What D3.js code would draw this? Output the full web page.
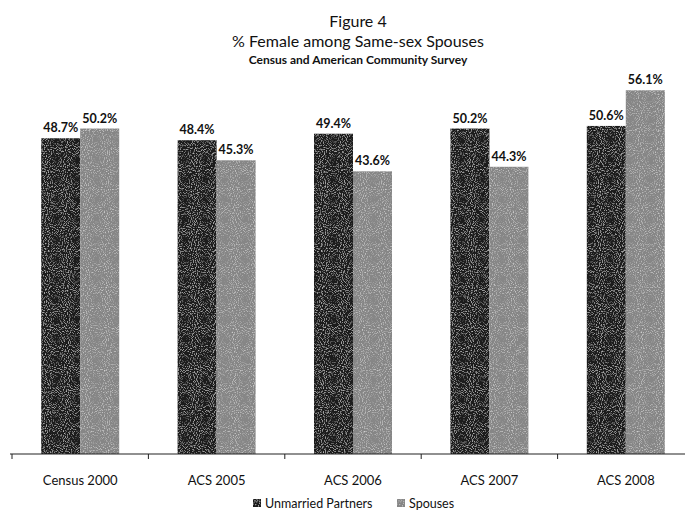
<!DOCTYPE html>
<html lang="en">
<head>
<meta charset="UTF-8">
<title>Figure 4</title>
<script src="https://cdn.jsdelivr.net/npm/d3@7"></script>
<style>
    body { margin: 0; background: #fff; }
    text { font-family: Lato, 'Open Sans', sans-serif; fill: #111; }
</style>
</head>
<body>
<svg id="chart" width="685" height="511"></svg>
<script>
    const categories = ["Census 2000", "ACS 2005", "ACS 2006", "ACS 2007", "ACS 2008"];
    const seriesNames = ["Unmarried Partners", "Spouses"];
    const unmarried = [48.7, 48.4, 49.4, 50.2, 50.6];
    const spouses = [50.2, 45.3, 43.6, 44.3, 56.1];
    const colors = ["#1e1e1e", "#868686"];

    const svg = d3.select("#chart");
    const base = 454;

    // grain so the bars look like the scanned print
    const defs = svg.append("defs");
    const f = defs.append("filter").attr("id", "grain").attr("x", 0).attr("y", 0).attr("width", 1).attr("height", 1);
    f.append("feTurbulence").attr("type", "fractalNoise").attr("baseFrequency", 0.95).attr("numOctaves", 1).attr("seed", 3).attr("result", "n");
    f.append("feColorMatrix").attr("in", "n").attr("type", "matrix")
        .attr("values", "0 0 0 0 1  0 0 0 0 1  0 0 0 0 1  1.6 0 0 0 -0.82").attr("result", "w");
    f.append("feComposite").attr("in", "w").attr("in2", "SourceGraphic").attr("operator", "in").attr("result", "wc");
    f.append("feMerge").selectAll("feMergeNode").data(["SourceGraphic", "wc"]).join("feMergeNode").attr("in", d => d);

    const x = d3.scaleBand().domain(categories).range([12, 694]);
    const xs = d3.scaleBand().domain(seriesNames).range([0, 78]);
    const y = d3.scaleLinear().domain([0, 60]).range([base, 65]);

    const rows = categories.map((c, i) => ({c, vals: [unmarried[i], spouses[i]]}));

    const g = svg.selectAll("g.cat").data(rows).join("g").attr("class", "cat")
        .attr("transform", d => `translate(${x(d.c) + x.bandwidth() / 2 - 39},0)`);

    g.selectAll("rect").data(d => d.vals.map((v, j) => ({v, s: seriesNames[j], j})))
        .join("rect")
        .attr("x", d => xs(d.s))
        .attr("y", d => y(d.v))
        .attr("width", xs.bandwidth())
        .attr("height", d => base - y(d.v))
        .attr("fill", d => colors[d.j])
        .attr("filter", "url(#grain)");

    g.selectAll("text.val").data(d => d.vals.map((v, j) => ({v, s: seriesNames[j]})))
        .join("text").attr("class", "val")
        .attr("x", d => xs(d.s) + xs.bandwidth() / 2)
        .attr("y", d => y(d.v) - 6)
        .attr("text-anchor", "middle")
        .style("font-size", "12.5px")
        .style("font-weight", "bold")
        .text(d => d.v.toFixed(1) + "%");

    // axis line and category ticks
    svg.append("line").attr("x1", 10).attr("x2", 685).attr("y1", base).attr("y2", base)
        .attr("stroke", "#222").attr("stroke-width", 1.2);
    svg.selectAll("line.tick").data(categories)
        .join("line").attr("class", "tick")
        .attr("x1", d => x(d)).attr("x2", d => x(d))
        .attr("y1", base).attr("y2", base + 5)
        .attr("stroke", "#222");

    svg.selectAll("text.cat").data(categories).join("text").attr("class", "cat")
        .attr("x", d => x(d) + x.bandwidth() / 2)
        .attr("y", 485)
        .attr("text-anchor", "middle")
        .style("font-size", "13px")
        .text(d => d);

    // titles
    const titles = [
        {t: "Figure 4", y: 27, s: 16},
        {t: "% Female among Same-sex Spouses", y: 47, s: 16},
        {t: "Census and American Community Survey", y: 64, s: 12}
    ];
    svg.selectAll("text.title").data(titles).join("text").attr("class", "title")
        .attr("x", 358).attr("y", d => d.y)
        .attr("text-anchor", "middle")
        .style("font-size", d => d.s + "px")
        .style("font-weight", (d, i) => i === 2 ? "bold" : "normal")
        .text(d => d.t);

    // legend
    const legX = [253, 397];
    const lg = svg.selectAll("g.leg").data(seriesNames).join("g").attr("class", "leg")
        .attr("transform", (d, i) => `translate(${legX[i]},498)`);
    lg.append("rect").attr("x", 0).attr("y", 1).attr("width", 8).attr("height", 8)
        .attr("fill", (d, i) => colors[i]).attr("filter", "url(#grain)");
    lg.append("text").attr("x", 12).attr("y", 9.5)
        .style("font-size", "12.5px")
        .text(d => d);
</script>
</body>
</html>
